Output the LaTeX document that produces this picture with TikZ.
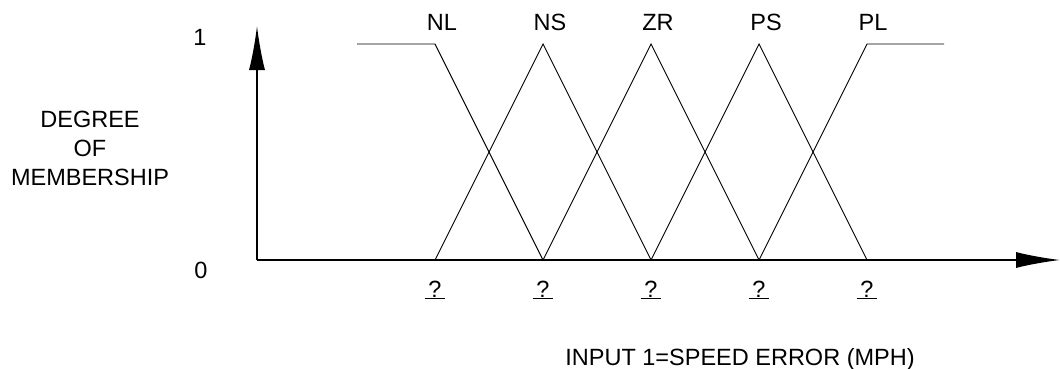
\documentclass[tikz,border=0pt]{standalone}
\usepackage{fontspec}
\setmainfont{Liberation Sans}
\usetikzlibrary{arrows.meta}
\begin{document}
\begin{tikzpicture}[x=1pt,y=-1pt,
  lbl/.style={font=\fontsize{23.5}{29}\selectfont, inner sep=0pt, anchor=base},
  axis/.style={line width=1.4pt, -{Latex[length=44pt,width=16pt]}},
  mf/.style={line width=0.9pt, line join=miter}]
\useasboundingbox (0,0) rectangle (1060,368);
% axes
\coordinate (O) at (257,260);
\coordinate (ytip) at (257,26);
\coordinate (xtip) at (1060,260);
\draw[axis] (O) -- (ytip);
\draw[axis] (O) -- (xtip);
% membership functions
\coordinate (p1) at (435,260);
\coordinate (p2) at (543,260);
\coordinate (p3) at (651,260);
\coordinate (p4) at (759,260);
\coordinate (p5) at (867,260);
\draw[mf] (357,44) -- (435,44) -- (p2);
\draw[mf] (p1) -- (543,44) -- (p3);
\draw[mf] (p2) -- (651,44) -- (p4);
\draw[mf] (p3) -- (759,44) -- (p5);
\draw[mf] (p4) -- (867,44) -- (944,44);
% labels
\node[lbl] (nl) at (442,30) {NL};
\node[lbl] (ns) at (550,30) {NS};
\node[lbl] (zr) at (658,30) {ZR};
\node[lbl] (ps) at (766,30) {PS};
\node[lbl] (pl) at (873,30) {PL};
\node[lbl] (one) at (200,45) {1};
\node[lbl] (zero) at (201,278) {0};
\node[lbl, anchor=center, align=center] (deg) at (90,148) {DEGREE\\OF\\MEMBERSHIP};
\foreach \i/\x in {1/435,2/543,3/651,4/759,5/867}
  \node[lbl] (q\i) at (\x,297) {\underline{\hspace{3.5pt}?\hspace{3.5pt}}};
\node[lbl] (xlab) at (740,365) {INPUT 1=SPEED ERROR (MPH)};
\end{tikzpicture}
\end{document}
